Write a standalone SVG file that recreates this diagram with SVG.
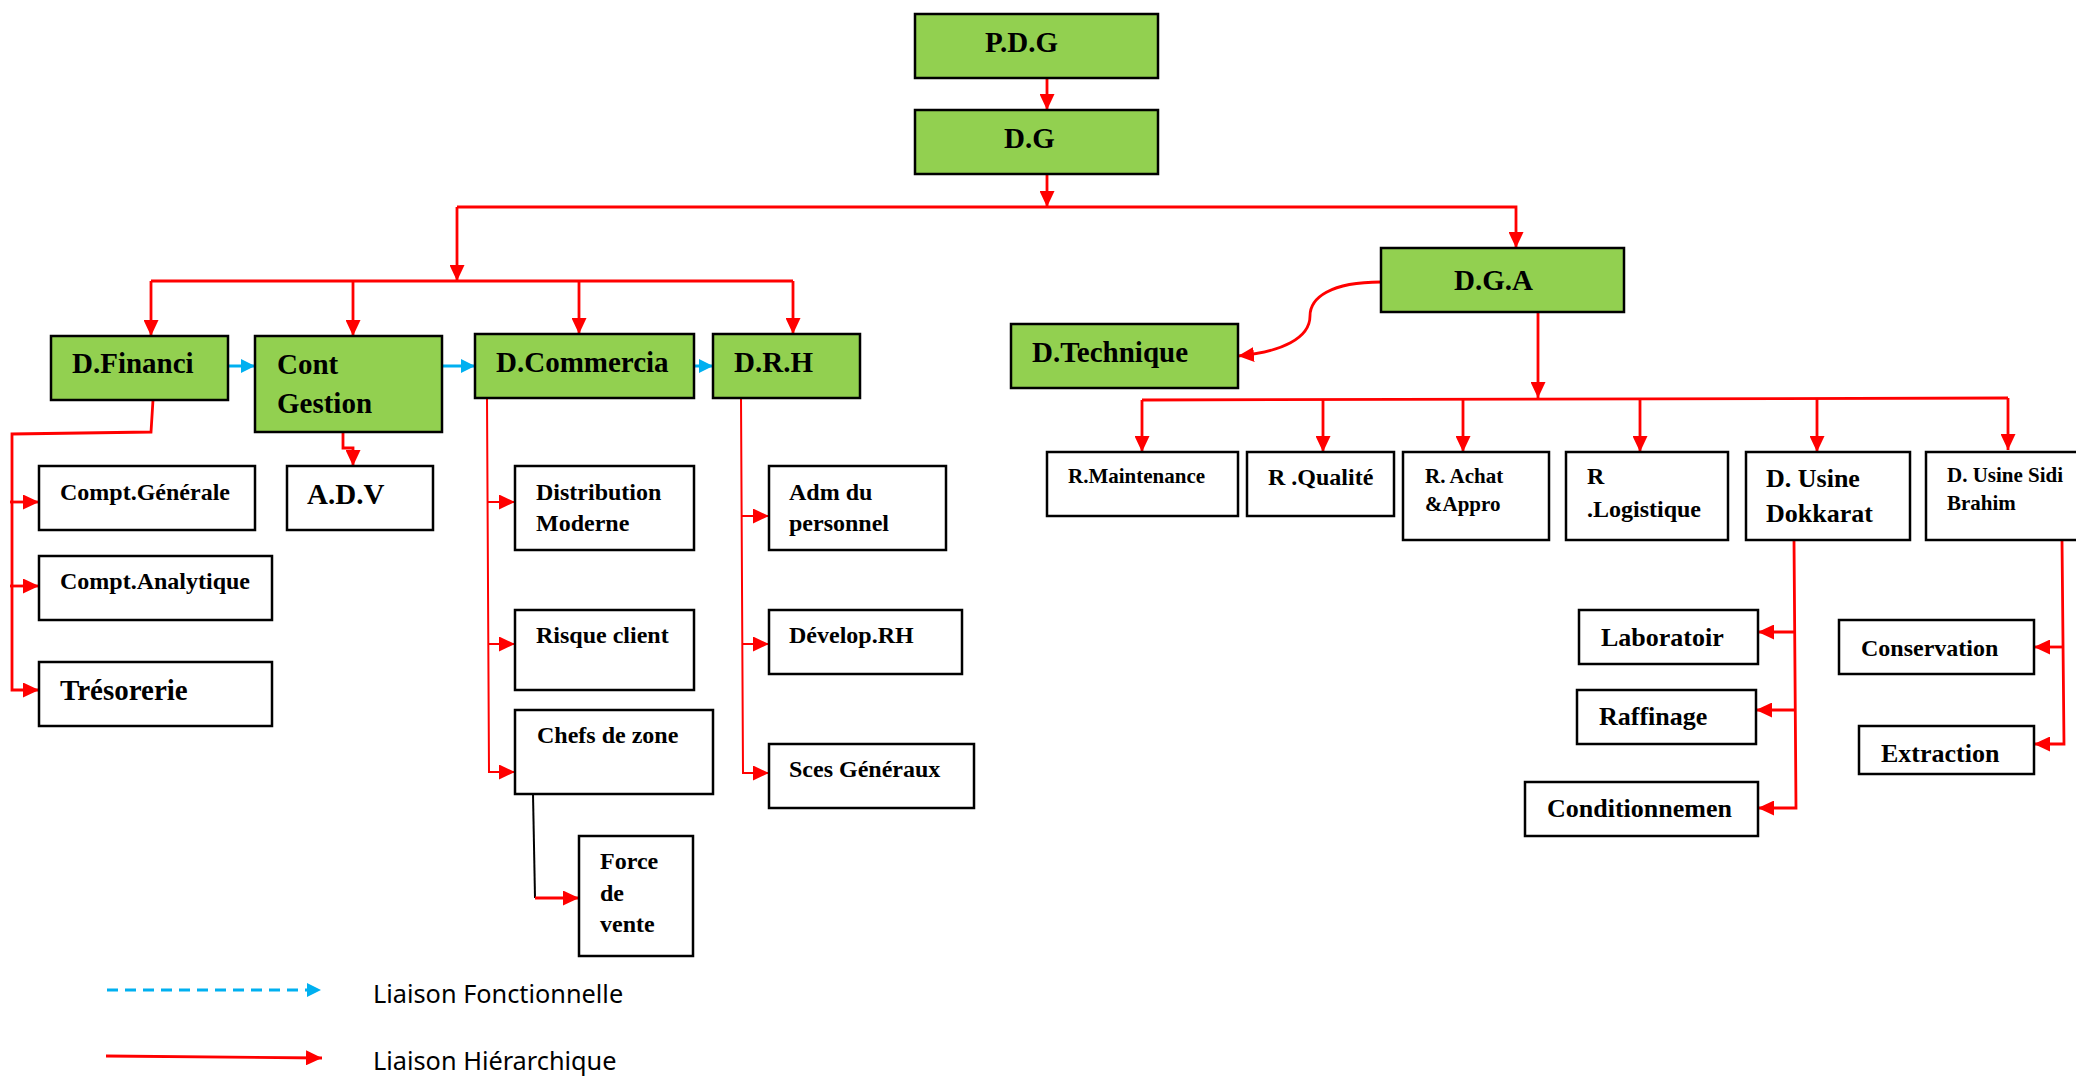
<svg xmlns="http://www.w3.org/2000/svg" width="2076" height="1077" viewBox="0 0 2076 1077">
<style>
.g{fill:#92D050;stroke:#000;stroke-width:2.5}
.w{fill:#fff;stroke:#000;stroke-width:2.5}
.t{font-family:"Liberation Serif","Times New Roman",serif;font-weight:bold;fill:#000}
.big{font-size:29px}
.mid{font-size:24px}
.sm{font-size:21px}
.m26{font-size:26px}
.r{fill:none;stroke:#FF0000;stroke-width:2.8}
.rt{fill:none;stroke:#FF0000;stroke-width:2}
.b{fill:none;stroke:#00B0F0;stroke-width:3}
.k{fill:none;stroke:#000;stroke-width:2}
.lg{font-family:"Noto Sans","Open Sans",sans-serif;font-size:25.3px;fill:#000}
</style>
<defs>
<marker id="ar" markerUnits="userSpaceOnUse" markerWidth="16" markerHeight="15" refX="16" refY="7.5" orient="auto"><path d="M0,0 L16,7.5 L0,15 Z" fill="#FF0000"/></marker>
<marker id="ab" markerUnits="userSpaceOnUse" markerWidth="14" markerHeight="14" refX="14" refY="7" orient="auto"><path d="M0,0 L14,7 L0,14 Z" fill="#00B0F0"/></marker>
</defs>
<rect width="2076" height="1077" fill="#fff"/>
<g id="connectors">
<path class="r" d="M1047,78 L1047,110" marker-end="url(#ar)"/>
<path class="r" d="M1047,174 L1047,207" marker-end="url(#ar)"/>
<path class="r" d="M457,207 L1516,207 L1516,248" marker-end="url(#ar)"/>
<path class="r" d="M457,207 L457,281" marker-end="url(#ar)"/>
<path class="r" d="M151,281 L793,281"/>
<path class="r" d="M151,281 L151,336" marker-end="url(#ar)"/>
<path class="r" d="M353,281 L353,336" marker-end="url(#ar)"/>
<path class="r" d="M579,281 L579,334" marker-end="url(#ar)"/>
<path class="r" d="M793,281 L793,334" marker-end="url(#ar)"/>
<path class="b" d="M228,366 L255,366" marker-end="url(#ab)"/>
<path class="b" d="M442,366 L475,366" marker-end="url(#ab)"/>
<path class="b" d="M694,366 L713,366" marker-end="url(#ab)"/>
<path class="r" d="M153,400 L151,432 L12,434 L12,690 L39,690" marker-end="url(#ar)"/>
<path class="r" d="M10,502 L39,502" marker-end="url(#ar)"/>
<path class="r" d="M10,586 L39,586" marker-end="url(#ar)"/>
<path class="r" d="M343,432 L343,448 L353,448 L353,466" marker-end="url(#ar)"/>
<path class="rt" d="M487,398 L489,772 L515,772" marker-end="url(#ar)"/>
<path class="rt" d="M487,502 L515,502" marker-end="url(#ar)"/>
<path class="rt" d="M488,644 L515,644" marker-end="url(#ar)"/>
<path class="k" d="M533,794 L535,898"/>
<path class="r" d="M535,898 L579,898" marker-end="url(#ar)"/>
<path class="rt" d="M741,398 L743,773 L769,773" marker-end="url(#ar)"/>
<path class="rt" d="M741,516 L769,516" marker-end="url(#ar)"/>
<path class="rt" d="M742,644 L769,644" marker-end="url(#ar)"/>
<path class="r" d="M1381,282 C1330,282 1310,298 1310,316 C1310,338 1282,352 1238,356" marker-end="url(#ar)"/>
<path class="r" d="M1538,312 L1538,398" marker-end="url(#ar)"/>
<path class="r" d="M1142,400 L2008,398"/>
<path class="r" d="M1142,400 L1142,452" marker-end="url(#ar)"/>
<path class="r" d="M1323,400 L1323,452" marker-end="url(#ar)"/>
<path class="r" d="M1463,400 L1463,452" marker-end="url(#ar)"/>
<path class="r" d="M1640,399 L1640,452" marker-end="url(#ar)"/>
<path class="r" d="M1817,398 L1817,452" marker-end="url(#ar)"/>
<path class="r" d="M2008,398 L2008,450" marker-end="url(#ar)"/>
<path class="r" d="M1794,540 L1796,808 L1758,808" marker-end="url(#ar)"/>
<path class="r" d="M1796,632 L1758,632" marker-end="url(#ar)"/>
<path class="r" d="M1796,710 L1756,710" marker-end="url(#ar)"/>
<path class="r" d="M2062,540 L2064,744 L2034,744" marker-end="url(#ar)"/>
<path class="r" d="M2063,647 L2034,647" marker-end="url(#ar)"/>
</g>
<g id="pdg"><rect class="g" x="915" y="14" width="243" height="64"/><text class="t big" x="985" y="52">P.D.G</text></g>
<g id="dg"><rect class="g" x="915" y="110" width="243" height="64"/><text class="t big" x="1004" y="148">D.G</text></g>
<g id="dfinanci"><rect class="g" x="51" y="336" width="177" height="64"/><text class="t big" x="72" y="373">D.Financi</text></g>
<g id="contgestion"><rect class="g" x="255" y="336" width="187" height="96"/><text class="t big" x="277" y="374">Cont</text><text class="t big" x="277" y="413">Gestion</text></g>
<g id="dcommercia"><rect class="g" x="475" y="334" width="219" height="64"/><text class="t big" x="496" y="372">D.Commercia</text></g>
<g id="drh"><rect class="g" x="713" y="334" width="147" height="64"/><text class="t big" x="734" y="372">D.R.H</text></g>
<g id="comptgenerale"><rect class="w" x="39" y="466" width="216" height="64"/><text class="t mid" x="60" y="500">Compt.Générale</text></g>
<g id="comptanalytique"><rect class="w" x="39" y="556" width="233" height="64"/><text class="t mid" x="60" y="589">Compt.Analytique</text></g>
<g id="tresorerie"><rect class="w" x="39" y="662" width="233" height="64"/><text class="t big" x="60" y="700">Trésorerie</text></g>
<g id="adv"><rect class="w" x="287" y="466" width="146" height="64"/><text class="t big" x="307" y="504">A.D.V</text></g>
<g id="distribution"><rect class="w" x="515" y="466" width="179" height="84"/><text class="t mid" x="536" y="500">Distribution</text><text class="t mid" x="536" y="531">Moderne</text></g>
<g id="risqueclient"><rect class="w" x="515" y="610" width="179" height="80"/><text class="t mid" x="536" y="643">Risque client</text></g>
<g id="chefsdezone"><rect class="w" x="515" y="710" width="198" height="84"/><text class="t mid" x="537" y="743">Chefs de zone</text></g>
<g id="forcedevente"><rect class="w" x="579" y="836" width="114" height="120"/><text class="t mid" x="600" y="869">Force</text><text class="t mid" x="600" y="901">de</text><text class="t mid" x="600" y="932">vente</text></g>
<g id="admpersonnel"><rect class="w" x="769" y="466" width="177" height="84"/><text class="t mid" x="789" y="500">Adm du</text><text class="t mid" x="789" y="531">personnel</text></g>
<g id="developrh"><rect class="w" x="769" y="610" width="193" height="64"/><text class="t mid" x="789" y="643">Dévelop.RH</text></g>
<g id="scesgeneraux"><rect class="w" x="769" y="744" width="205" height="64"/><text class="t mid" x="789" y="777">Sces Généraux</text></g>
<g id="dga"><rect class="g" x="1381" y="248" width="243" height="64"/><text class="t big" x="1454" y="290">D.G.A</text></g>
<g id="dtechnique"><rect class="g" x="1011" y="324" width="227" height="64"/><text class="t big" x="1032" y="362">D.Technique</text></g>
<g id="rmaintenance"><rect class="w" x="1047" y="452" width="191" height="64"/><text class="t sm" x="1068" y="483">R.Maintenance</text></g>
<g id="rqualite"><rect class="w" x="1247" y="452" width="147" height="64"/><text class="t mid" x="1268" y="485">R .Qualité</text></g>
<g id="rachat"><rect class="w" x="1403" y="452" width="146" height="88"/><text class="t sm" x="1425" y="483">R. Achat</text><text class="t sm" x="1425" y="511">&amp;Appro</text></g>
<g id="rlogistique"><rect class="w" x="1566" y="452" width="162" height="88"/><text class="t mid" x="1587" y="484">R</text><text class="t mid" x="1587" y="517">.Logistique</text></g>
<g id="dusinedokkarat"><rect class="w" x="1746" y="452" width="164" height="88"/><text class="t m26" x="1766" y="487">D. Usine</text><text class="t m26" x="1766" y="522">Dokkarat</text></g>
<g id="dusinesidibrahim"><rect class="w" x="1926" y="452" width="160" height="88"/><text class="t sm" x="1947" y="482">D. Usine Sidi</text><text class="t sm" x="1947" y="510">Brahim</text></g>
<g id="laboratoir"><rect class="w" x="1579" y="610" width="179" height="54"/><text class="t m26" x="1601" y="646">Laboratoir</text></g>
<g id="raffinage"><rect class="w" x="1577" y="690" width="179" height="54"/><text class="t m26" x="1599" y="725">Raffinage</text></g>
<g id="conditionnemen"><rect class="w" x="1525" y="782" width="233" height="54"/><text class="t m26" x="1547" y="817">Conditionnemen</text></g>
<g id="conservation"><rect class="w" x="1839" y="620" width="195" height="54"/><text class="t mid" x="1861" y="656">Conservation</text></g>
<g id="extraction"><rect class="w" x="1859" y="726" width="175" height="48"/><text class="t m26" x="1881" y="762">Extraction</text></g>
<g id="legend">
<path class="b" d="M107,990 L321,990" stroke-dasharray="11,7" marker-end="url(#ab)"/>
<text class="lg" x="373" y="1003">Liaison Fonctionnelle</text>
<path class="r" d="M106,1056 L322,1058" marker-end="url(#ar)"/>
<text class="lg" x="373" y="1070">Liaison Hiérarchique</text>
</g>
</svg>
